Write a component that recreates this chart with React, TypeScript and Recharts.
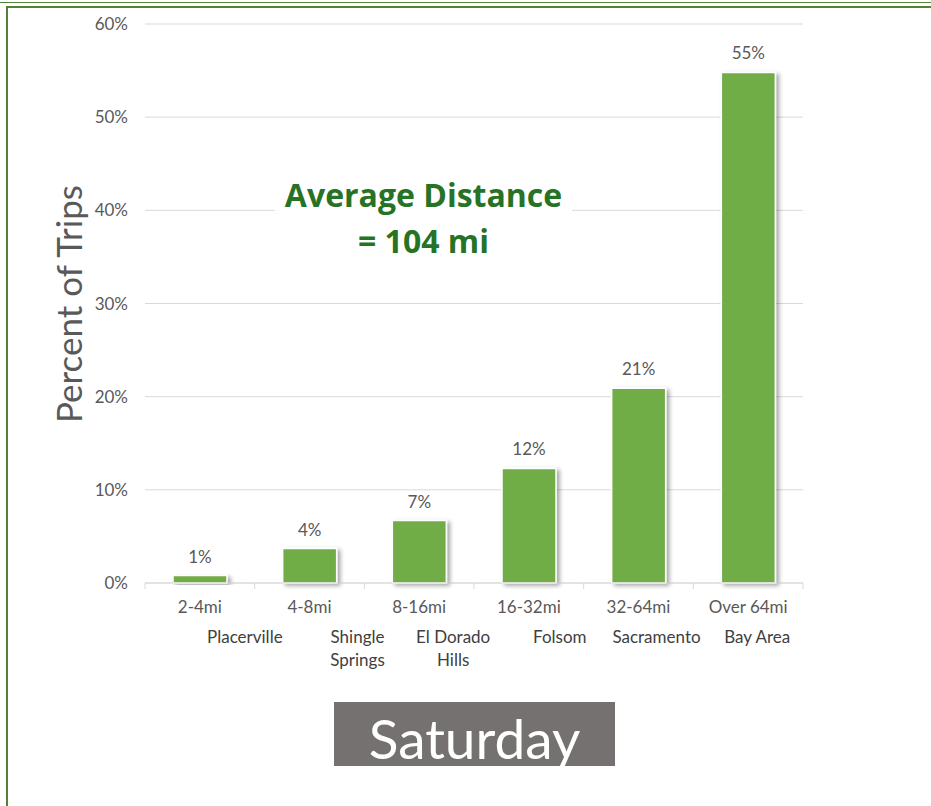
import React from 'react';
import { BarChart, Bar, XAxis, YAxis, CartesianGrid, LabelList } from 'recharts';

const categories = ['2-4mi', '4-8mi', '8-16mi', '16-32mi', '32-64mi', 'Over 64mi'];
const places = ['Placerville', 'Shingle\nSprings', 'El Dorado\nHills', 'Folsom', 'Sacramento', 'Bay Area'];
const percents = [0.8, 3.7, 6.7, 12.3, 20.9, 54.8];
const yTicks = [0, 10, 20, 30, 40, 50, 60];

const placeDx = [45, 48, 34, 31, 18, 9];

const data = categories.map((c, i) => ({ name: c, place: places[i], value: percents[i] }));

const FONT = 'Lato, "Open Sans", sans-serif';
const BAND = (803 - 145) / categories.length;

const XTick = (props: any) => {
  const { x, y, payload, index } = props;
  const place: string = places[index] || '';
  const lines = place.split('\n');
  return (
    <g>
      <line x1={x - BAND / 2} x2={x - BAND / 2} y1={y - 8} y2={y - 2} stroke="#d9d9d9" />
      {index === categories.length - 1 && (
        <line x1={x + BAND / 2} x2={x + BAND / 2} y1={y - 8} y2={y - 2} stroke="#d9d9d9" />
      )}
      <text x={x} y={y + 22} textAnchor="middle" fill="#595959" fontSize={17} fontFamily={FONT}>
        {payload.value}
      </text>
      {lines.map((l, k) => (
        <text key={k} x={x + placeDx[index]} y={y + 52 + k * 23} textAnchor="middle" fill="#404040" fontSize={17} fontFamily={FONT}>
          {l}
        </text>
      ))}
    </g>
  );
};

export default function App() {
  return (
    <div style={{ position: 'absolute', left: 0, top: 0, width: 931, height: 806, background: '#fff', overflow: 'hidden', fontFamily: FONT }}>
      <div style={{ position: 'absolute', left: 0, top: 2, width: 931, height: 1, background: '#548235' }} />
      <div style={{ position: 'absolute', left: 6, top: 6, width: 925, height: 2, background: '#548235' }} />
      <div style={{ position: 'absolute', left: 6, top: 6, width: 2, height: 800, background: '#548235' }} />
      <BarChart width={931} height={806} data={data} margin={{ top: 24, right: 128, left: 85, bottom: 133 }}>
        <defs>
          <filter id="barShadow" x="-20%" y="-20%" width="150%" height="140%">
            <feDropShadow dx="3" dy="2" stdDeviation="2" floodColor="#000" floodOpacity="0.35" />
          </filter>
        </defs>
        <CartesianGrid vertical={false} stroke="#d9d9d9" />
        <XAxis
          dataKey="name"
          axisLine={{ stroke: '#d9d9d9' }}
          tickLine={false}
          height={90}
          interval={0}
          tick={<XTick />}
        />
        <YAxis
          width={60}
          domain={[0, 60]}
          ticks={yTicks}
          tickFormatter={(v: number) => `${v}%`}
          axisLine={false}
          tickLine={false}
          tickMargin={11}
          tick={{ fill: '#595959', fontSize: 17, fontFamily: FONT }}
        />
        <Bar dataKey="value" fill="#70ad47" stroke="#ffffff" strokeWidth={1.5} barSize={54} isAnimationActive={false} filter="url(#barShadow)">
          <LabelList
            dataKey="value"
            position="top"
            offset={13}
            formatter={(v: number) => `${Math.round(v)}%`}
            style={{ fill: '#595959', fontSize: 17, fontFamily: FONT }}
          />
        </Bar>
      </BarChart>
      <div style={{ position: 'absolute', left: 275, top: 172, width: 297, height: 90, background: '#fff', color: '#267326', fontWeight: 700, fontSize: 32, lineHeight: '46px', textAlign: 'center', fontFamily: '"Open Sans", Lato, sans-serif' }}>
        Average Distance<br />= 104 mi
      </div>
      <div style={{ position: 'absolute', left: 68, top: 304, width: 0, height: 0 }}>
        <div style={{ position: 'absolute', left: -150, top: -22, width: 300, height: 44, lineHeight: '44px', textAlign: 'center', transform: 'rotate(-90deg)', color: '#595959', fontSize: 35, whiteSpace: 'nowrap' }}>
          Percent of Trips
        </div>
      </div>
      <div style={{ position: 'absolute', left: 334, top: 702, width: 281, height: 64, background: '#767171', color: '#fff', fontSize: 55, lineHeight: '72px', textAlign: 'center' }}>
        Saturday
      </div>
    </div>
  );
}
